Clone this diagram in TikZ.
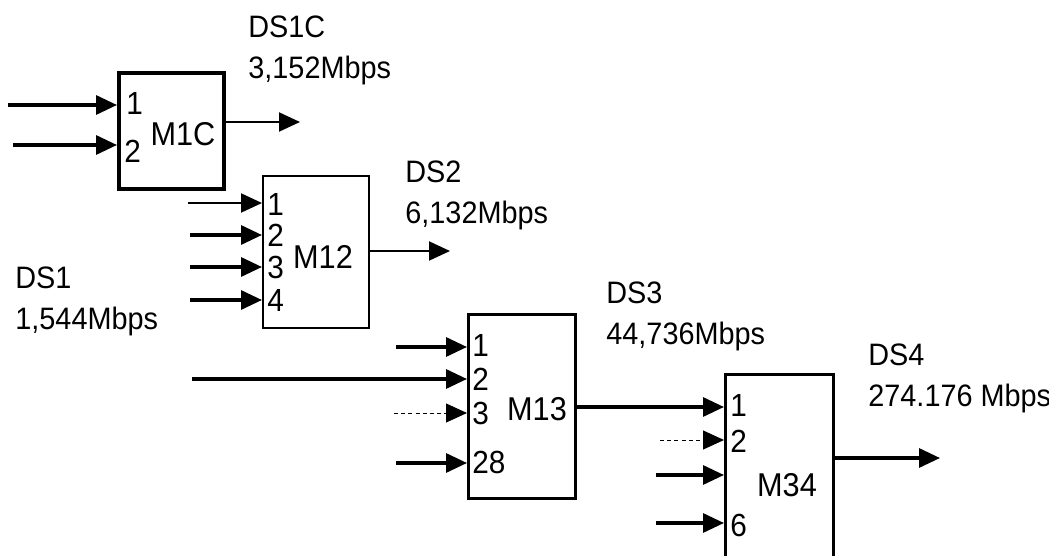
\documentclass[tikz,border=0pt]{standalone}
\usepackage{fontspec}
\setmainfont{Liberation Sans}[FakeStretch=0.93]
\usetikzlibrary{arrows.meta, positioning}

\begin{document}
\begin{tikzpicture}[x=0.5pt, y=-0.5pt,
    mux/.style={draw, line width=1.5pt, inner sep=0pt, anchor=north west},
    sig/.style={-{Triangle[length=10.5pt, width=9.5pt]}, line width=1.6pt},
    sigthin/.style={-{Triangle[length=10.5pt, width=9.5pt]}, line width=1pt},
    sigdot/.style={-{Triangle[length=10.5pt, width=9.5pt]}, line width=0.5pt, dash pattern=on 2pt off 1.6pt},
    port/.style={anchor=west, inner sep=0pt, font=\fontsize{16}{18}\selectfont},
    muxname/.style={inner sep=0pt, font=\fontsize{16.5}{18}\selectfont},
    rate/.style={anchor=north west, inner sep=0pt, align=left, font=\fontsize{15.5}{20.5}\selectfont},
]
\useasboundingbox (0,0) rectangle (1049,556);

% M1C: two DS1 into DS1C
\node[mux, line width=2pt, minimum width=52.5pt, minimum height=58pt] (m1c) at (117,71) {};
\node[muxname] (m1cname) at (183,134) {M1C};
\node[port] (m1cp1) at (126,103) {1};
\node[port] (m1cp2) at (124,151) {2};
\draw[sig] (8,105) -- (m1c.west |- 0,105);
\draw[sig] (13,145) -- (m1c.west |- 0,145);
\draw[sigthin] (m1c.east |- 0,122) -- (300,122);
\node[rate] (ds1c) at (248,15) {DS1C\\3,152Mbps};

% M12: four DS1 into DS2
\node[mux, line width=1.2pt, minimum width=53pt, minimum height=76pt] (m12) at (262,175) {};
\node[muxname] (m12name) at (323,257) {M12};
\node[port] (m12p1) at (267,204) {1};
\node[port] (m12p2) at (267,235) {2};
\node[port] (m12p3) at (267,267) {3};
\node[port] (m12p4) at (267,300) {4};
\draw[sigthin] (188,203) -- (m12.west |- 0,203);
\draw[sig] (190,235) -- (m12.west |- 0,235);
\draw[sig] (190,267) -- (m12.west |- 0,267);
\draw[sig] (190,300) -- (m12.west |- 0,300);
\draw[sigthin] (m12.east |- 0,251) -- (450,251);
\node[rate] (ds2) at (405,160) {DS2\\6,132Mbps};

\node[rate] (ds1) at (15,266) {DS1\\1,544Mbps};

% M13: 28 DS1 into DS3
\node[mux, minimum width=53.5pt, minimum height=92pt] (m13) at (467,313) {};
\node[muxname] (m13name) at (537,409) {M13};
\node[port] (m13p1) at (472,345) {1};
\node[port] (m13p2) at (472,379) {2};
\node[port] (m13p3) at (472,413) {3};
\node[port] (m13p28) at (472,462) {28};
\draw[sig] (396,347) -- (m13.west |- 0,347);
\draw[sig] (192,379) -- (m13.west |- 0,379);
\draw[sigdot] (394,413) -- (m13.west |- 0,413);
\draw[sig] (396,463) -- (m13.west |- 0,463);
\node[rate] (ds3) at (606,281) {DS3\\44,736Mbps};

% M34: 6 DS3 into DS4
\node[mux, minimum width=54pt, minimum height=105pt] (m34) at (724,373) {};
\node[muxname] (m34name) at (787,485) {M34};
\node[port] (m34p1) at (730,405) {1};
\node[port] (m34p2) at (730,441) {2};
\node[port] (m34p6) at (730,525) {6};
\draw[sig] (m13.east |- 0,407) -- (m34.west |- 0,407);
\draw[sigdot] (660,440) -- (m34.west |- 0,440);
\draw[sig] (656,475) -- (m34.west |- 0,475);
\draw[sig] (656,523) -- (m34.west |- 0,523);
\draw[sig] (m34.east |- 0,458) -- (940,458);
\node[rate] (ds4) at (868,343) {DS4\\274.176 Mbps};
\end{tikzpicture}
\end{document}
